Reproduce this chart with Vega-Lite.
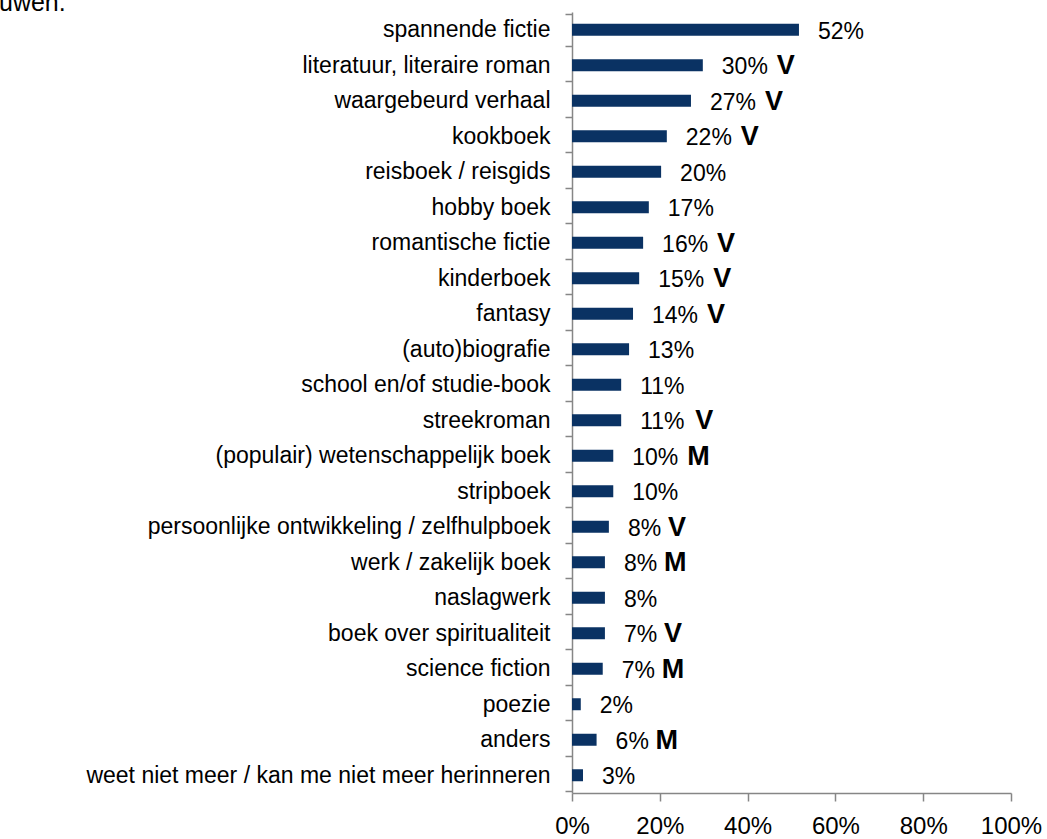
{
  "$schema": "https://vega.github.io/schema/vega-lite/v6.json",
  "width": 439,
  "height": 781,
  "autosize": {"type": "none"},
  "padding": {"left": 572, "top": 12, "right": 36, "bottom": 46},
  "background": "white",
  "title": {
    "text": "uwen.",
    "anchor": "start",
    "frame": "group",
    "dx": -573,
    "dy": 35,
    "offset": 0,
    "baseline": "alphabetic",
    "fontSize": 25,
    "fontWeight": "normal",
    "font": "Liberation Sans",
    "color": "#000000"
  },
  "config": {
    "view": {"stroke": null},
    "font": "Liberation Sans"
  },
  "data": {
    "values": [
      {"cat": "spannende fictie", "value": 51.7, "pct": 52, "label": "52%", "mark": ""},
      {"cat": "literatuur, literaire roman", "value": 29.8, "pct": 30, "label": "30%", "mark": "V"},
      {"cat": "waargebeurd verhaal", "value": 27.1, "pct": 27, "label": "27%", "mark": "V"},
      {"cat": "kookboek", "value": 21.6, "pct": 22, "label": "22%", "mark": "V"},
      {"cat": "reisboek / reisgids", "value": 20.3, "pct": 20, "label": "20%", "mark": ""},
      {"cat": "hobby boek", "value": 17.5, "pct": 17, "label": "17%", "mark": ""},
      {"cat": "romantische fictie", "value": 16.2, "pct": 16, "label": "16%", "mark": "V"},
      {"cat": "kinderboek", "value": 15.3, "pct": 15, "label": "15%", "mark": "V"},
      {"cat": "fantasy", "value": 13.9, "pct": 14, "label": "14%", "mark": "V"},
      {"cat": "(auto)biografie", "value": 13.0, "pct": 13, "label": "13%", "mark": ""},
      {"cat": "school en/of studie-book", "value": 11.2, "pct": 11, "label": "11%", "mark": ""},
      {"cat": "streekroman", "value": 11.2, "pct": 11, "label": "11%", "mark": "V"},
      {"cat": "(populair) wetenschappelijk boek", "value": 9.4, "pct": 10, "label": "10%", "mark": "M"},
      {"cat": "stripboek", "value": 9.4, "pct": 10, "label": "10%", "mark": ""},
      {"cat": "persoonlijke ontwikkeling / zelfhulpboek", "value": 8.4, "pct": 8, "label": "8%", "mark": "V"},
      {"cat": "werk / zakelijk  boek", "value": 7.5, "pct": 8, "label": "8%", "mark": "M"},
      {"cat": "naslagwerk", "value": 7.5, "pct": 8, "label": "8%", "mark": ""},
      {"cat": "boek over spiritualiteit", "value": 7.5, "pct": 7, "label": "7%", "mark": "V"},
      {"cat": "science fiction", "value": 7.0, "pct": 7, "label": "7%", "mark": "M"},
      {"cat": "poezie", "value": 2.0, "pct": 2, "label": "2%", "mark": ""},
      {"cat": "anders", "value": 5.6, "pct": 6, "label": "6%", "mark": "M"},
      {"cat": "weet niet meer / kan me niet meer herinneren", "value": 2.5, "pct": 3, "label": "3%", "mark": ""}
    ]
  },
  "encoding": {
    "y": {
      "field": "cat",
      "type": "nominal",
      "sort": null,
      "title": null,
      "axis": {
        "tickBand": "extent",
        "labelFontSize": 23,
        "labelColor": "#000000",
        "labelPadding": 15,
        "tickSize": 7,
        "tickColor": "#868686",
        "tickWidth": 1.5,
        "domainColor": "#868686",
        "domainWidth": 1.5,
        "labelLimit": 700,
        "grid": false
      }
    },
    "x": {
      "field": "value",
      "type": "quantitative",
      "scale": {"domain": [0, 100], "nice": false},
      "title": null,
      "axis": {
        "values": [0, 20, 40, 60, 80, 100],
        "format": ".0f",
        "labelExpr": "datum.label + '%'",
        "labelFlush": false,
        "labelOverlap": false,
        "labelFontSize": 24,
        "labelColor": "#000000",
        "labelPadding": 13,
        "tickSize": 8,
        "tickColor": "#868686",
        "tickWidth": 1.5,
        "domainColor": "#868686",
        "domainWidth": 1.5,
        "grid": false
      }
    }
  },
  "layer": [
    {
      "mark": {"type": "bar", "size": 12, "color": "#0a3263"}
    },
    {
      "mark": {"type": "text", "align": "left", "baseline": "middle", "dx": 19, "dy": 2, "fontSize": 23, "color": "#000000"},
      "encoding": {"text": {"field": "label"}}
    },
    {
      "transform": [{"filter": "datum.pct >= 10"}],
      "mark": {"type": "text", "align": "left", "baseline": "middle", "dx": 74, "dy": 1, "fontSize": 27, "fontWeight": "bold", "color": "#000000"},
      "encoding": {"text": {"field": "mark"}}
    },
    {
      "transform": [{"filter": "datum.pct < 10"}],
      "mark": {"type": "text", "align": "left", "baseline": "middle", "dx": 59, "dy": 1, "fontSize": 27, "fontWeight": "bold", "color": "#000000"},
      "encoding": {"text": {"field": "mark"}}
    }
  ]
}
